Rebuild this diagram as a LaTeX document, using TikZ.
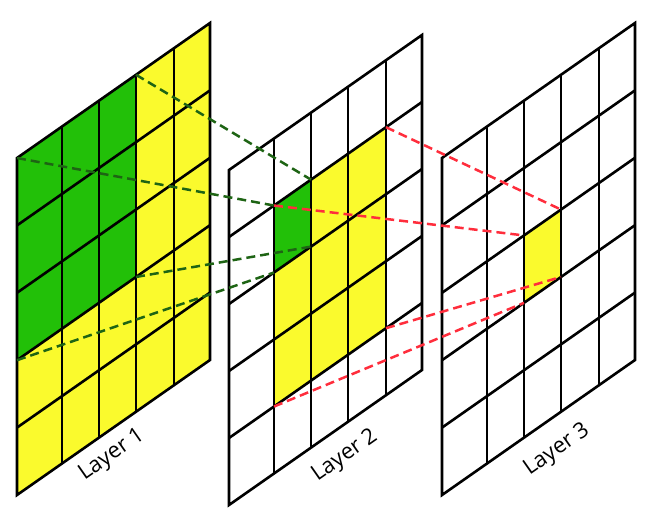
\documentclass[tikz,border=0pt]{standalone}
\usepackage{fontspec}
\newfontfamily\labelfont{Open Sans}
\definecolor{cellyellow}{RGB}{250,250,45}
\definecolor{cellgreen}{RGB}{34,192,8}
\definecolor{dashgreen}{RGB}{30,100,20}
\definecolor{dashred}{RGB}{255,45,60}
\tikzset{
  gridline/.style={line width=2.6pt, black, line join=miter},
  greenlink/.style={dashgreen, line width=2.5pt, dash pattern=on 9pt off 5pt},
  redlink/.style={dashred, line width=2.5pt, dash pattern=on 9pt off 5pt},
  layerlabel/.style={font=\labelfont\fontsize{22}{22}\selectfont, rotate=35, inner sep=0pt}
}
\newcommand\mklayer[4]{% name, ox, oy, row height
  \foreach \i/\c in {0/0,1/45,2/82,3/119,4/157,5/193}{
    \foreach \j in {0,...,5}{
      \coordinate (#1-\i-\j) at ({#2+\c},{#3+\j*#4-\c*0.69948});
    }
  }
}
\newcommand\gridof[1]{%
  \foreach \k in {1,...,4}{
    \draw[gridline] (#1-\k-0) -- (#1-\k-5);
    \draw[gridline] (#1-0-\k) -- (#1-5-\k);
  }
  \draw[gridline] (#1-0-0) -- (#1-5-0) -- (#1-5-5) -- (#1-0-5) -- cycle;
}
\begin{document}
\begin{tikzpicture}[x=1pt,y=-1pt]
\useasboundingbox (0,0) rectangle (658,517);
\mklayer{La}{17}{158}{67.4}
\mklayer{Lb}{229}{170}{67.0}
\mklayer{Lc}{442}{158}{67.4}
% fills
\fill[cellyellow] (La-0-0) -- (La-5-0) -- (La-5-5) -- (La-0-5) -- cycle;
\fill[cellgreen] (La-0-0) -- (La-3-0) -- (La-3-3) -- (La-0-3) -- cycle;
\fill[cellyellow] (Lb-1-1) -- (Lb-4-1) -- (Lb-4-4) -- (Lb-1-4) -- cycle;
\fill[cellgreen] (Lb-1-1) -- (Lb-2-1) -- (Lb-2-2) -- (Lb-1-2) -- cycle;
\fill[cellyellow] (Lc-2-2) -- (Lc-3-2) -- (Lc-3-3) -- (Lc-2-3) -- cycle;
% grids
\gridof{La}
\gridof{Lb}
\gridof{Lc}
% links layer 1 -> layer 2
\draw[greenlink] (La-3-0) -- (Lb-2-1);
\draw[greenlink] (La-0-0) -- (Lb-1-1);
\draw[greenlink] (La-3-3) -- (Lb-2-2);
\draw[greenlink] (La-0-3) -- (Lb-1-2);
% links layer 2 -> layer 3
\draw[redlink] (Lb-4-1) -- (Lc-3-2);
\draw[redlink] (Lb-1-1) -- (Lc-2-2);
\draw[redlink] (Lb-4-4) -- (Lc-3-3);
\draw[redlink] (Lb-1-4) -- (Lc-2-3);
% labels
\node[layerlabel] (t1) at (112,455) {Layer 1};
\node[layerlabel] (t2) at (345,456) {Layer 2};
\node[layerlabel] (t3) at (557,450) {Layer 3};
\end{tikzpicture}
\end{document}
